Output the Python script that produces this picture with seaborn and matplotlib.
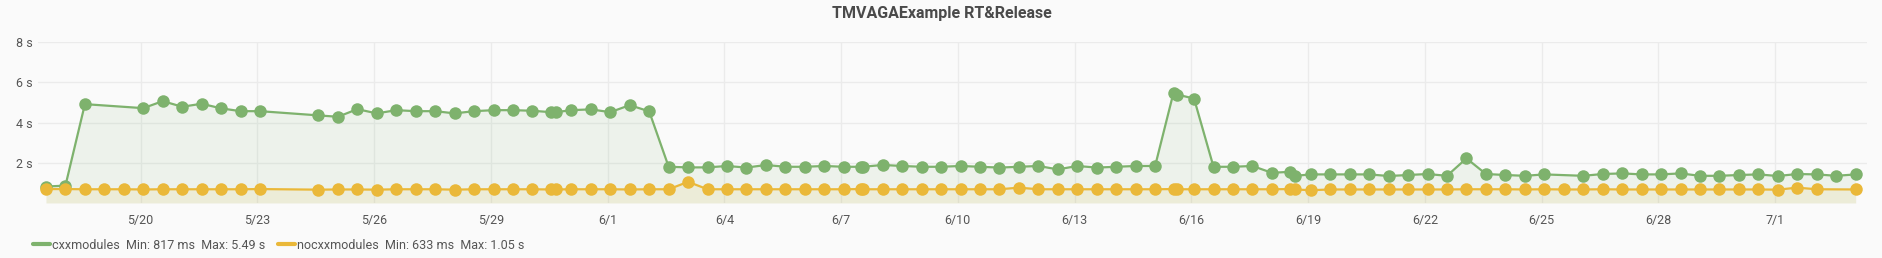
import pandas as pd
import matplotlib
matplotlib.use('Agg')
import matplotlib.pyplot as plt
from matplotlib.lines import Line2D
import seaborn as sns

# Datos (tiempos en segundos)
YEAR = 2023
title = 'TMVAGAExample RT&Release'
series_names = ['cxxmodules', 'nocxxmodules']
colors = ['#7EB26D', '#EAB839']

cxx_times = [
    '05-17 13:40', '05-18 01:40', '05-18 13:40', '05-20 01:40', '05-20 13:40',
    '05-21 01:40', '05-21 13:40', '05-22 01:40', '05-22 13:40', '05-23 01:40',
    '05-24 13:40', '05-25 01:40', '05-25 13:40', '05-26 01:40', '05-26 13:40',
    '05-27 01:40', '05-27 13:40', '05-28 01:40', '05-28 13:40', '05-29 01:40',
    '05-29 13:40', '05-30 01:40', '05-30 13:10', '05-30 16:00', '05-31 01:40',
    '05-31 13:40', '06-01 01:40', '06-01 13:40', '06-02 01:40', '06-02 13:40',
    '06-03 01:40', '06-03 13:40', '06-04 01:40', '06-04 13:40', '06-05 01:40',
    '06-05 13:40', '06-06 01:40', '06-06 13:40', '06-07 01:40', '06-07 12:00',
    '06-07 13:20', '06-08 01:40', '06-08 13:40', '06-09 01:40', '06-09 13:40',
    '06-10 01:40', '06-10 13:40', '06-11 01:40', '06-11 13:40', '06-12 01:40',
    '06-12 13:40', '06-13 01:40', '06-13 13:40', '06-14 01:40', '06-14 13:40',
    '06-15 01:40', '06-15 13:00', '06-15 15:00', '06-16 01:40', '06-16 13:40',
    '06-17 01:40', '06-17 13:40', '06-18 01:40', '06-18 13:00', '06-18 16:00',
    '06-19 01:40', '06-19 13:40', '06-20 01:40', '06-20 13:40', '06-21 01:40',
    '06-21 13:40', '06-22 01:40', '06-22 13:40', '06-23 01:40', '06-23 13:40',
    '06-24 01:40', '06-24 13:40', '06-25 01:40', '06-26 01:40', '06-26 13:40',
    '06-27 01:40', '06-27 13:40', '06-28 01:40', '06-28 13:40', '06-29 01:40',
    '06-29 13:40', '06-30 01:40', '06-30 13:40', '07-01 01:40', '07-01 13:40',
    '07-02 01:40', '07-02 13:40', '07-03 01:40',
]
cxx_values = [
    0.817, 0.86, 4.92, 4.72, 5.07,
    4.79, 4.94, 4.71, 4.57, 4.57,
    4.36, 4.29, 4.67, 4.46, 4.62,
    4.57, 4.57, 4.46, 4.57, 4.62,
    4.62, 4.59, 4.52, 4.52, 4.62,
    4.66, 4.52, 4.87, 4.56, 1.80,
    1.77, 1.77, 1.84, 1.76, 1.89,
    1.80, 1.80, 1.84, 1.80, 1.80,
    1.80, 1.89, 1.84, 1.80, 1.80,
    1.84, 1.80, 1.76, 1.80, 1.84,
    1.67, 1.84, 1.76, 1.80, 1.84,
    1.84, 5.49, 5.40, 5.20, 1.80,
    1.80, 1.84, 1.50, 1.55, 1.35,
    1.42, 1.42, 1.42, 1.42, 1.34,
    1.39, 1.44, 1.35, 2.22, 1.44,
    1.39, 1.35, 1.42, 1.35, 1.44,
    1.47, 1.42, 1.42, 1.47, 1.35,
    1.35, 1.39, 1.42, 1.34, 1.44,
    1.42, 1.35, 1.42,
]

nocxx_times = [
    '05-17 13:40', '05-18 01:40', '05-18 13:40', '05-19 01:40', '05-19 13:40',
    '05-20 01:40', '05-20 13:40', '05-21 01:40', '05-21 13:40', '05-22 01:40',
    '05-22 13:40', '05-23 01:40', '05-24 13:40', '05-25 01:40', '05-25 13:40',
    '05-26 01:40', '05-26 13:40', '05-27 01:40', '05-27 13:40', '05-28 01:40',
    '05-28 13:40', '05-29 01:40', '05-29 13:40', '05-30 01:40', '05-30 13:10',
    '05-30 16:00', '05-31 01:40', '05-31 13:40', '06-01 01:40', '06-01 13:40',
    '06-02 01:40', '06-02 13:40', '06-03 01:40', '06-03 13:40', '06-04 01:40',
    '06-04 13:40', '06-05 01:40', '06-05 13:40', '06-06 01:40', '06-06 13:40',
    '06-07 01:40', '06-07 12:00', '06-07 13:20', '06-08 01:40', '06-08 13:40',
    '06-09 01:40', '06-09 13:40', '06-10 01:40', '06-10 13:40', '06-11 01:40',
    '06-11 13:40', '06-12 01:40', '06-12 13:40', '06-13 01:40', '06-13 13:40',
    '06-14 01:40', '06-14 13:40', '06-15 01:40', '06-15 13:00', '06-15 15:00',
    '06-16 01:40', '06-16 13:40', '06-17 01:40', '06-17 13:40', '06-18 01:40',
    '06-18 13:00', '06-18 16:00', '06-19 01:40', '06-19 13:40', '06-20 01:40',
    '06-20 13:40', '06-21 01:40', '06-21 13:40', '06-22 01:40', '06-22 13:40',
    '06-23 01:40', '06-23 13:40', '06-24 01:40', '06-24 13:40', '06-25 01:40',
    '06-25 13:40', '06-26 01:40', '06-26 13:40', '06-27 01:40', '06-27 13:40',
    '06-28 01:40', '06-28 13:40', '06-29 01:40', '06-29 13:40', '06-30 01:40',
    '06-30 13:40', '07-01 01:40', '07-01 13:40', '07-02 01:40', '07-03 01:40',
]
nocxx_values = [
    0.69, 0.69, 0.68, 0.68, 0.68,
    0.67, 0.68, 0.68, 0.68, 0.68,
    0.68, 0.69, 0.66, 0.67, 0.67,
    0.66, 0.68, 0.68, 0.68, 0.66,
    0.68, 0.68, 0.68, 0.68, 0.67,
    0.67, 0.68, 0.68, 0.68, 0.67,
    0.68, 0.68, 1.05, 0.68, 0.68,
    0.68, 0.68, 0.68, 0.68, 0.68,
    0.68, 0.69, 0.68, 0.68, 0.68,
    0.68, 0.68, 0.68, 0.68, 0.68,
    0.76, 0.68, 0.68, 0.68, 0.68,
    0.68, 0.68, 0.68, 0.69, 0.68,
    0.68, 0.68, 0.68, 0.68, 0.68,
    0.69, 0.67, 0.633, 0.67, 0.67,
    0.67, 0.67, 0.67, 0.67, 0.67,
    0.68, 0.68, 0.68, 0.67, 0.68,
    0.67, 0.67, 0.68, 0.67, 0.67,
    0.67, 0.67, 0.67, 0.67, 0.67,
    0.67, 0.66, 0.76, 0.68, 0.67,
]

tick_days = ['05-20', '05-23', '05-26', '05-29', '06-01', '06-04', '06-07',
             '06-10', '06-13', '06-16', '06-19', '06-22', '06-25', '06-28', '07-01']
tick_labels = ['5/20', '5/23', '5/26', '5/29', '6/1', '6/4', '6/7',
               '6/10', '6/13', '6/16', '6/19', '6/22', '6/25', '6/28', '7/1']
y_ticks = [2, 4, 6, 8]
y_labels = ['2 s', '4 s', '6 s', '8 s']


def to_dt(lst):
    return pd.to_datetime([f'{YEAR}-{s}' for s in lst])


def fmt(v):
    return f'{v * 1000:.0f} ms' if v < 1 else f'{v:.2f} s'


df = pd.concat([
    pd.DataFrame({'time': to_dt(cxx_times), 'value': cxx_values, 'serie': series_names[0]}),
    pd.DataFrame({'time': to_dt(nocxx_times), 'value': nocxx_values, 'serie': series_names[1]}),
])

sns.set_style('white')
plt.rcParams['font.family'] = ['Roboto', 'DejaVu Sans']
bg = '#FAFAFA'
txt = '#555555'

fig = plt.figure(figsize=(18.83, 2.58), dpi=100, facecolor=bg)
ax = fig.add_axes([0.0204, 0.2135, 0.9711, 0.6225])
ax.set_facecolor(bg)

# Relleno bajo cada serie
for name, c in zip(series_names, colors):
    d = df[df['serie'] == name]
    ax.fill_between(d['time'], d['value'], 0, color=c, alpha=0.1, linewidth=0)

sns.lineplot(data=df, x='time', y='value', hue='serie', palette=colors,
             marker='o', markersize=9, markeredgewidth=0, linewidth=1.6,
             estimator=None, legend=False, ax=ax)

ax.set_ylim(0, 8)
ax.set_xlim(pd.Timestamp(f'{YEAR}-05-17 09:00'), pd.Timestamp(f'{YEAR}-07-03 08:40'))
ax.set_yticks(y_ticks)
ax.set_yticklabels(y_labels)
ax.set_xticks(to_dt(tick_days))
ax.set_xticklabels(tick_labels)
ax.tick_params(axis='both', length=0, labelsize=9, colors=txt)
ax.tick_params(axis='x', pad=8)
ax.tick_params(axis='y', pad=4)
ax.grid(True, color='#EBEBEB', linewidth=1)
ax.set_axisbelow(True)
for s in ax.spines.values():
    s.set_visible(False)
ax.set_xlabel('')
ax.set_ylabel('')

fig.text(0.5, 0.948, title, ha='center', va='center', fontsize=11.5,
         fontweight='bold', color='#4a4a4a')

# Leyenda con minimo y maximo
handles = []
for name, c, vals in zip(series_names, colors, [cxx_values, nocxx_values]):
    label = f'{name}  Min: {fmt(min(vals))}  Max: {fmt(max(vals))}'
    handles.append(Line2D([0], [0], color=c, linewidth=3, label=label))
leg = fig.legend(handles=handles, loc='center left', bbox_to_anchor=(0.0175, 0.05),
                 ncol=2, frameon=False, fontsize=9, handlelength=1.35,
                 handletextpad=0.2, columnspacing=1.0, borderpad=0, borderaxespad=0)
for t in leg.get_texts():
    t.set_color(txt)

fig.savefig('out.png', dpi=100, facecolor=bg)
